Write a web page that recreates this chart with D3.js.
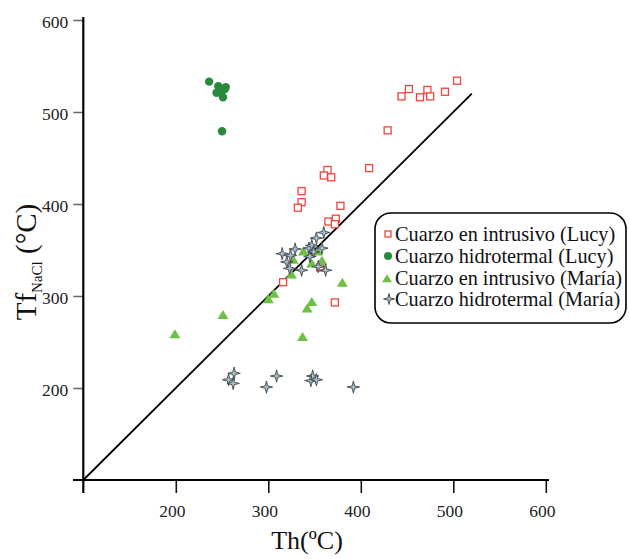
<!DOCTYPE html>
<html><head><meta charset="utf-8">
<script src="https://cdn.jsdelivr.net/npm/d3@7"></script>
<style>
html,body{margin:0;padding:0;background:#fff;}
svg{display:block;font-family:"Liberation Serif","Times New Roman",serif;}
</style></head>
<body>
<svg id="chart" width="629" height="559"></svg>
<script>
// ---- data (Th, TfNaCl) ----
const lucyIntrusivo = [
  [504,534],[452,525],[444,517],[472,524],[464,516],[475,517],[491,522],
  [429,480],[409,439],[364,437],[360,431],[368,429],[336,414],[336,402],
  [332,396],[378,398],[365,381],[373,384],[372,378],[356,331],[316,315],[372,293]
];
const lucyHidrotermal = [
  [236,533],[246,528],[254,527],[244,521],[250,523],[251,516],[253,525],[250,479]
];
const mariaIntrusivo = [
  [199,258],[251,279],[300,296],[306,302],[325,323],[327,339],[338,348],
  [347,335],[353,348],[358,338],[380,314],[347,293],[342,286],[337,255]
];
const mariaHidrotermal = [
  [315,346],[329,351],[320,337],[324,344],[323,330],[336,328],[344,352],
  [347,355],[345,343],[352,363],[360,369],[358,352],[354,332],[362,328],[349,348],
  [263,216],[257,209],[262,205],[309,213],[298,201],[348,213],[346,208],[352,209],[392,201]
];
const xTicks = [200,300,400,500,600];
const yTicks = [200,300,400,500,600];
const oneToOne = [[100,100],[520,520]];
const legendLabels = [
  "Cuarzo en intrusivo (Lucy)",
  "Cuarzo hidrotermal (Lucy)",
  "Cuarzo en intrusivo (María)",
  "Cuarzo hidrotermal (María)"
];

const FONT = "'Liberation Serif','Times New Roman',serif";

// ---- scales ----
const x = d3.scaleLinear().domain([100,600]).range([83.3,545.8]);
const y = d3.scaleLinear().domain([100,600]).range([480,20]);

const svg = d3.select("#chart");

// axes
const yAxis = d3.axisLeft(y).tickValues(yTicks).tickSize(10).tickPadding(5).tickFormat(d3.format("d"));
const gy = svg.append("g").attr("transform",`translate(${x(100)},0)`).call(yAxis);
gy.select(".domain").remove();
gy.selectAll(".tick line").attr("stroke","#666").attr("stroke-width",1.5);
gy.selectAll(".tick text").attr("font-size",17.5).attr("fill","#222")
  .attr("font-family",FONT).attr("dy","0.4em");

const xAxis = d3.axisBottom(x).tickValues(xTicks).tickSize(13).tickPadding(12).tickFormat(d3.format("d"));
const gx = svg.append("g").attr("transform",`translate(0,${y(100)})`).call(xAxis);
gx.select(".domain").remove();
gx.selectAll(".tick line").attr("stroke","#111").attr("stroke-width",1.6);
gx.selectAll(".tick text").attr("font-size",17.5).attr("fill","#222").attr("dx",-4)
  .attr("font-family",FONT);

// axis lines
svg.append("line").attr("x1",x(100)).attr("x2",x(100)).attr("y1",17).attr("y2",493)
  .attr("stroke","#000").attr("stroke-width",2.2);
svg.append("line").attr("x1",73).attr("x2",549).attr("y1",y(100)).attr("y2",y(100))
  .attr("stroke","#000").attr("stroke-width",2.2);

// 1:1 line
svg.append("path").datum(oneToOne)
  .attr("d",d3.line().x(d=>x(d[0])).y(d=>y(d[1])))
  .attr("stroke","#000").attr("stroke-width",1.8).attr("fill","none");

// axis titles
svg.append("text").attr("x",307).attr("y",549).attr("text-anchor","middle")
  .attr("font-family",FONT).attr("font-size",26).attr("fill","#111").text("Th(ºC)");
const yl = svg.append("text").attr("transform","translate(36,262) rotate(-90)")
  .attr("text-anchor","middle").attr("font-family",FONT).attr("font-size",29).attr("fill","#111");
yl.append("tspan").text("Tf");
yl.append("tspan").attr("font-size",15).attr("dy",6).text("NaCl");
yl.append("tspan").attr("dy",-6).text(" (°C)");

// marker helpers
const starPath = (r,a)=>`M0,${-r}L${a},${-a}L${r},0L${a},${a}L0,${r}L${-a},${a}L${-r},0L${-a},${-a}Z`;
const triPath = (w,h)=>`M0,${-h*0.6}L${w/2},${h*0.4}L${-w/2},${h*0.4}Z`;

function drawSquare(g,cx,cy,s){
  g.append("rect").attr("x",cx-s/2).attr("y",cy-s/2).attr("width",s).attr("height",s)
   .attr("fill","#fff").attr("stroke","#f0453a").attr("stroke-width",1.3);
}
function drawCircle(g,cx,cy,r){
  g.append("circle").attr("cx",cx).attr("cy",cy).attr("r",r).attr("fill","#2a8a3c");
}
function drawTri(g,cx,cy,w,h){
  g.append("path").attr("transform",`translate(${cx},${cy})`).attr("d",triPath(w,h)).attr("fill","#6cc046");
}
function drawStar(g,cx,cy,r){
  g.append("path").attr("transform",`translate(${cx},${cy})`).attr("d",starPath(r,r*0.2))
   .attr("fill","#9fc0d0").attr("stroke","#444").attr("stroke-width",0.9);
}

const pts = svg.append("g");
lucyIntrusivo.forEach(d=>drawSquare(pts,x(d[0]),y(d[1]),7));
mariaIntrusivo.forEach(d=>drawTri(pts,x(d[0]),y(d[1]),11,9));
lucyHidrotermal.forEach(d=>drawCircle(pts,x(d[0]),y(d[1]),4.2));
mariaHidrotermal.forEach(d=>drawStar(pts,x(d[0]),y(d[1]),6.2));

// legend
const lg = svg.append("g");
lg.append("rect").attr("x",375).attr("y",213).attr("width",251).attr("height",110).attr("rx",16)
  .attr("fill","#fff").attr("stroke","#000").attr("stroke-width",1.6);
const ly = [234,256,278,299];
drawSquare(lg,388,ly[0],6);
drawCircle(lg,388,ly[1],4);
drawTri(lg,387,ly[2]+1,10,8);
drawStar(lg,389,ly[3],5.5);
legendLabels.forEach((t,i)=>{
  lg.append("text").attr("x",395).attr("y",ly[i]+6.5).attr("font-family",FONT)
    .attr("font-size",20.3).attr("fill","#111").text(t);
});
</script>
</body></html>
